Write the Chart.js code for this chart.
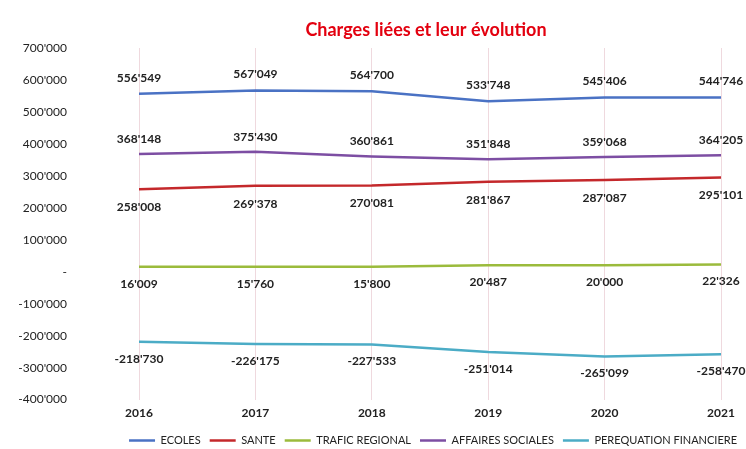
<!DOCTYPE html>
<html>
<head>
<meta charset="utf-8">
<script src="https://cdn.jsdelivr.net/npm/chart.js@4/dist/chart.umd.min.js"></script>
<style>
  html, body { margin: 0; padding: 0; background: #ffffff; }
  #wrap { width: 746px; height: 449px; }
</style>
</head>
<body>
<div id="wrap"><canvas id="chargesChart" width="746" height="449"></canvas></div>
<script>
const years = ['2016', '2017', '2018', '2019', '2020', '2021'];
const ecoles = [556549, 567049, 564700, 533748, 545406, 544746];
const sante = [258008, 269378, 270081, 281867, 287087, 295101];
const trafic = [16009, 15760, 15800, 20487, 20000, 22326];
const affaires = [368148, 375430, 360861, 351848, 359068, 364205];
const perequation = [-218730, -226175, -227533, -251014, -265099, -258470];
const chartTitle = 'Charges liées et leur évolution';

const fontName = 'Lato, "DejaVu Sans", sans-serif';

let fmt = (n) => {
    const s = Math.abs(Math.round(n)).toString().replace(/\B(?=(\d{3})+(?!\d))/g, "'");
    return (n < 0 ? '-' : '') + s;
};

// draws the value next to each point (no datalabels plugin offline)
const valueLabels = {
    id: 'valueLabels',
    afterDatasetsDraw(chart) {
        const ctx = chart.ctx;
        ctx.save();
        ctx.font = 'bold 12px ' + fontName;
        ctx.fillStyle = '#222222';
        ctx.textAlign = 'center';
        ctx.textBaseline = 'middle';
        chart.data.datasets.forEach((ds, i) => {
            const meta = chart.getDatasetMeta(i);
            meta.data.forEach((pt, j) => {
                ctx.fillText(fmt(ds.data[j]), pt.x, pt.y + ds.labelShift);
            });
        });
        ctx.restore();
    }
};

// title centred over the plot area, like the Excel original
const plotTitle = {
    id: 'plotTitle',
    afterDraw(chart) {
        const ctx = chart.ctx;
        const area = chart.chartArea;
        ctx.save();
        ctx.font = 'bold 18px ' + fontName;
        ctx.fillStyle = '#e3000f';
        ctx.textAlign = 'center';
        ctx.textBaseline = 'middle';
        ctx.fillText(chartTitle, (area.left + area.right) / 2 - 4, area.top - 18);
        ctx.restore();
    }
};

let makeSet = (label, data, color, shift) => ({
    label: label,
    data: data,
    borderColor: color,
    backgroundColor: color,
    borderWidth: 2.5,
    pointRadius: 0,
    tension: 0,
    fill: false,
    labelShift: shift
});

let ctx = document.getElementById('chargesChart').getContext('2d');
let chargesChart = new Chart(ctx, {
    type: 'line',
    data: {
        labels: years,
        datasets: [
            makeSet('ECOLES', ecoles, '#4a72c4', -16),
            makeSet('SANTE', sante, '#c4282b', 18),
            makeSet('TRAFIC REGIONAL', trafic, '#9bbb3c', 17),
            makeSet('AFFAIRES SOCIALES', affaires, '#7d4ea3', -15),
            makeSet('PEREQUATION FINANCIERE', perequation, '#4bacc6', 17)
        ]
    },
    options: {
        responsive: false,
        animation: false,
        layout: {
            padding: { left: 0, right: 0, top: 48, bottom: -7 }
        },
        scales: {
            x: {
                offset: false,
                grid: { display: true, color: 'rgba(225, 185, 195, 0.55)', drawTicks: false },
                border: { display: false },
                ticks: {
                    color: '#222222',
                    padding: 6,
                    maxRotation: 0,
                    font: { family: fontName, size: 12, weight: 'bold' }
                }
            },
            y: {
                min: -400000,
                max: 700000,
                // wide gap between labels and plot, without the vertical padding ticks.padding adds
                afterFit: (scale) => {
                    scale.width = 139;
                    scale.paddingTop = 7;
                    scale.paddingBottom = 7;
                },
                grid: { display: false },
                border: { display: false },
                ticks: {
                    stepSize: 100000,
                    padding: 64,
                    color: '#222222',
                    font: { family: fontName, size: 12 },
                    callback: (v) => v === 0 ? '-' : fmt(v)
                }
            },
            // empty right margin so the last point sits at x≈721
            yRight: {
                position: 'right',
                display: true,
                afterFit: (scale) => { scale.width = 25; },
                grid: { display: false },
                border: { display: false },
                ticks: { display: false }
            }
        },
        plugins: {
            title: { display: false },
            legend: {
                position: 'bottom',
                align: 'end',
                labels: {
                    usePointStyle: true,
                    pointStyle: 'line',
                    pointStyleWidth: 26,
                    boxHeight: 10,
                    padding: 9,
                    color: '#222222',
                    font: { family: fontName, size: 11 }
                }
            },
            tooltip: { enabled: false }
        }
    },
    plugins: [valueLabels, plotTitle]
});
</script>
</body>
</html>
